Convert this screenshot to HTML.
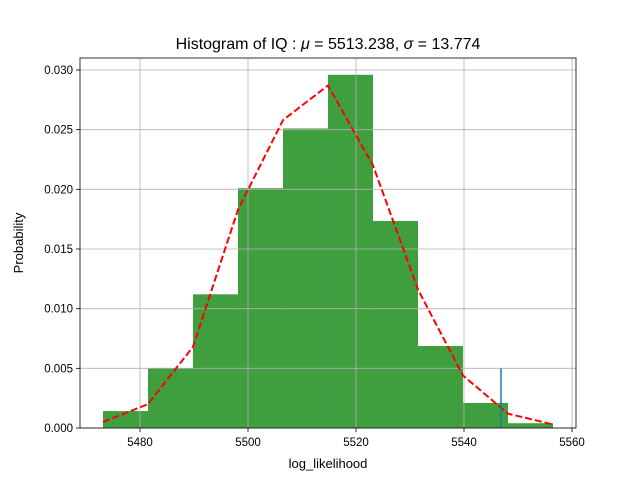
<!DOCTYPE html>
<html><head><meta charset="utf-8"><style>
body{margin:0;background:#fff;}
svg{display:block;font-family:"Liberation Sans","DejaVu Sans",sans-serif;}
</style></head><body>
<svg id="chart" width="640" height="480">
<rect width="640" height="480" fill="#fff"/>
<text x="328" y="49" font-size="16" text-anchor="middle">Histogram of IQ :  <tspan font-style="italic">μ</tspan> = 5513.238,  <tspan font-style="italic">σ</tspan> = 13.774</text>
<g id="bars"></g><g id="grid"></g><g id="lines"></g><g id="axes"></g>
<text x="328" y="468" font-size="13" text-anchor="middle">log_likelihood</text>
<text transform="translate(23,243) rotate(-90)" font-size="13" text-anchor="middle">Probability</text>
</svg>
<script>
const binEdges=[5473.15,5481.48,5489.81,5498.15,5506.48,5514.81,5523.15,5531.48,5539.81,5548.15,5556.48];
const binHeights=[0.00142,0.00503,0.0112,0.0201,0.0251,0.0296,0.01735,0.00687,0.0021,0.0004];
const pdfValues=[0.0005,0.002,0.0068,0.0183,0.0258,0.0287,0.022,0.0116,0.0044,0.0012,0.0003];
const xTicks=[5480,5500,5520,5540,5560];
const yTicks=[0,0.005,0.010,0.015,0.020,0.025,0.030];
const yTickLabels=["0.000","0.005","0.010","0.015","0.020","0.025","0.030"];
const markerX=5546.85, markerH=0.005;
const L=80,R=576,T=58,B=428;
const xs=v=>140+(v-5480)*5.4;
const ys=v=>428-v*(358/0.03);
const NS="http://www.w3.org/2000/svg";
function mk(p,t,a){const e=document.createElementNS(NS,t);for(const k in a)e.setAttribute(k,a[k]);p.appendChild(e);return e;}
const bars=document.getElementById('bars'),grid=document.getElementById('grid'),lines=document.getElementById('lines'),axes=document.getElementById('axes');
binHeights.forEach((h,i)=>{
 const r=mk(bars,'rect',{x:xs(binEdges[i]),y:ys(h),width:xs(binEdges[i+1])-xs(binEdges[i]),height:ys(0)-ys(h),fill:'#3f9f3f'});
 
 
});
xTicks.forEach(t=>{
 const x=xs(t);
 const g=mk(grid,'line',{x1:x,x2:x,y1:T,y2:B,stroke:'#b0b0b0','stroke-width':0.8});
 
 
 mk(axes,'line',{x1:x,x2:x,y1:B,y2:B+4,stroke:'#000','stroke-width':0.8});
 const tx=mk(axes,'text',{x:x,y:B+18,'font-size':11.5,'text-anchor':'middle'});tx.textContent=t;
 
 
});
yTicks.forEach((t,i)=>{
 const y=ys(t);
 const g=mk(grid,'line',{x1:L,x2:R,y1:y,y2:y,stroke:'#b0b0b0','stroke-width':0.8});
 
 
 mk(axes,'line',{x1:L-4,x2:L,y1:y,y2:y,stroke:'#000','stroke-width':0.8});
 const tx=mk(axes,'text',{x:L-7,y:y+4,'font-size':11.5,'text-anchor':'end'});tx.textContent=yTickLabels[i];
 
 
});
const pts=pdfValues.map((v,i)=>xs(binEdges[i])+','+ys(v)).join(' ');
const pl=mk(lines,'polyline',{points:pts,fill:'none',stroke:'#ff0000','stroke-width':2,'stroke-dasharray':'7,3'});


const mv=mk(lines,'line',{x1:xs(markerX),x2:xs(markerX),y1:ys(0),y2:ys(markerH),stroke:'#1f77b4','stroke-width':1.5});


const fr=mk(axes,'rect',{x:L,y:T,width:R-L,height:B-T,fill:'none',stroke:'#000','stroke-width':0.8});


</script>
</body></html>
